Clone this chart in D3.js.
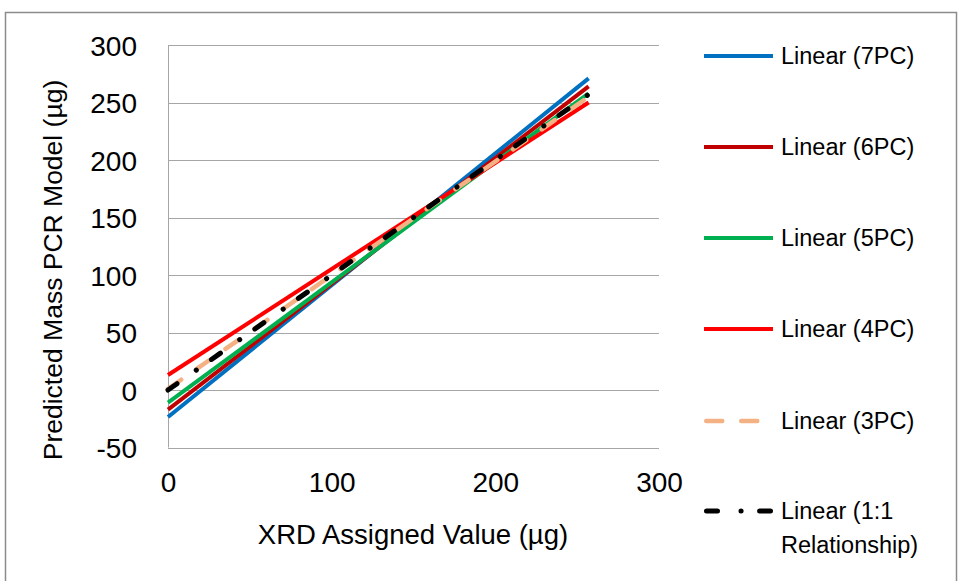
<!DOCTYPE html>
<html>
<head>
<meta charset="utf-8">
<script src="https://cdn.jsdelivr.net/npm/d3@7"></script>
<style>
  body { margin: 0; background: #fff; }
  svg { display: block; font-family: "Liberation Sans", Arial, sans-serif; }
</style>
</head>
<body>
<div id="chart"></div>
<script>
// trendline end points (x in µg, predicted y in µg)
const xEnds = [0, 257];
const names = ['Linear (7PC)', 'Linear (6PC)', 'Linear (5PC)', 'Linear (4PC)', 'Linear (3PC)', 'Linear (1:1 Relationship)'];
const pc7 = [-23.5, 271];
const pc6 = [-17, 264];
const pc5 = [-11, 258];
const pc4 = [13, 250];
const pc3 = [1, 255];
const oneToOne = [0, 257];
const xTicks = [0, 100, 200, 300];
const yTicks = [-50, 0, 50, 100, 150, 200, 250, 300];

const series = [
    { name: names[0], values: pc7, color: '#0070c0', width: 4, dash: null, cap: 'butt' },
    { name: names[1], values: pc6, color: '#c00000', width: 4, dash: null, cap: 'butt' },
    { name: names[2], values: pc5, color: '#00b050', width: 4, dash: null, cap: 'butt' },
    { name: names[3], values: pc4, color: '#ff0000', width: 4, dash: null, cap: 'butt' },
    { name: names[4], values: pc3, color: '#f4b183', width: 4.5, dash: '16,19', cap: 'round' },
    { name: names[5], values: oneToOne, color: '#000000', width: 5, dash: '11,23.5,0.1,18.5', cap: 'round' }
];

const width = 960, height = 581;
const svg = d3.select('#chart').append('svg')
    .attr('width', width)
    .attr('height', height);

// outer chart border
svg.append('rect')
    .attr('x', 5.5).attr('y', 12.5)
    .attr('width', 951).attr('height', 600)
    .attr('fill', 'none')
    .attr('stroke', '#8c8c8c')
    .attr('stroke-width', 1.5);

const x = d3.scaleLinear().domain([0, 300]).range([168, 659]);
const y = d3.scaleLinear().domain([-50, 300]).range([447.5, 45]);

// gridlines
svg.append('g')
    .selectAll('line')
    .data(yTicks)
    .join('line')
    .attr('x1', x(0)).attr('x2', x(300))
    .attr('y1', d => Math.round(y(d)) + 0.5)
    .attr('y2', d => Math.round(y(d)) + 0.5)
    .attr('stroke', '#a6a6a6')
    .attr('stroke-width', 1);

// y axis line
svg.append('line')
    .attr('x1', x(0) + 0.5).attr('x2', x(0) + 0.5)
    .attr('y1', y(300)).attr('y2', y(-50))
    .attr('stroke', '#a6a6a6');

// tick labels (plain hyphen for negatives, like the original)
const yAxis = d3.axisLeft(y).tickValues(yTicks).tickSize(0).tickPadding(0)
    .tickFormat(d => String(d));
svg.append('g')
    .attr('transform', 'translate(137,0)')
    .call(yAxis)
    .call(g => g.select('.domain').remove())
    .selectAll('text')
    .attr('fill', '#000')
    .attr('dy', '0.36em')
    .style('font-size', '28px')
    .style('font-family', '"Liberation Sans", Arial, sans-serif');

const xAxis = d3.axisBottom(x).tickValues(xTicks).tickSize(0).tickPadding(0);
svg.append('g')
    .attr('transform', 'translate(0,472)')
    .call(xAxis)
    .call(g => g.select('.domain').remove())
    .selectAll('text')
    .attr('fill', '#000')
    .attr('dy', '0.71em')
    .style('font-size', '28px')
    .style('font-family', '"Liberation Sans", Arial, sans-serif');

// axis titles
svg.append('text')
    .attr('x', 413).attr('y', 544)
    .attr('text-anchor', 'middle')
    .style('font-size', '27.5px')
    .attr('fill', '#000')
    .text('XRD Assigned Value (µg)');

svg.append('text')
    .attr('transform', 'translate(53,270) rotate(-90)')
    .attr('text-anchor', 'middle')
    .attr('dy', '0.35em')
    .style('font-size', '26.5px')
    .attr('fill', '#000')
    .text('Predicted Mass PCR Model (µg)');

// trendlines
const line = d3.line()
    .x((d, i) => x(xEnds[i]))
    .y(d => y(d));

series.forEach(s => {
    svg.append('path')
        .datum(s.values)
        .attr('d', line)
        .attr('fill', 'none')
        .attr('stroke', s.color)
        .attr('stroke-width', s.width)
        .attr('stroke-linecap', s.cap)
        .attr('stroke-dasharray', s.dash);
});

// legend
const legendY = [56, 147, 238, 329, 421, 511];
const legend = svg.append('g');
series.forEach((s, i) => {
    const g = legend.append('g').attr('transform', `translate(0,${legendY[i]})`);
    const inset = s.cap === 'round' ? s.width / 2 : 0;
    g.append('line')
        .attr('x1', 704 + inset).attr('x2', 773 - inset)
        .attr('y1', 0).attr('y2', 0)
        .attr('stroke', s.color)
        .attr('stroke-width', s.width)
        .attr('stroke-linecap', s.cap)
        .attr('stroke-dasharray', s.dash);
    const t = g.append('text')
        .attr('x', 781)
        .attr('dy', '0.36em')
        .style('font-size', '23.5px')
        .attr('fill', '#000');
    if (i === 5) {
        t.append('tspan').attr('x', 781).text('Linear (1:1');
        t.append('tspan').attr('x', 781).attr('dy', 34).text('Relationship)');
    } else {
        t.text(s.name);
    }
});
</script>
</body>
</html>
